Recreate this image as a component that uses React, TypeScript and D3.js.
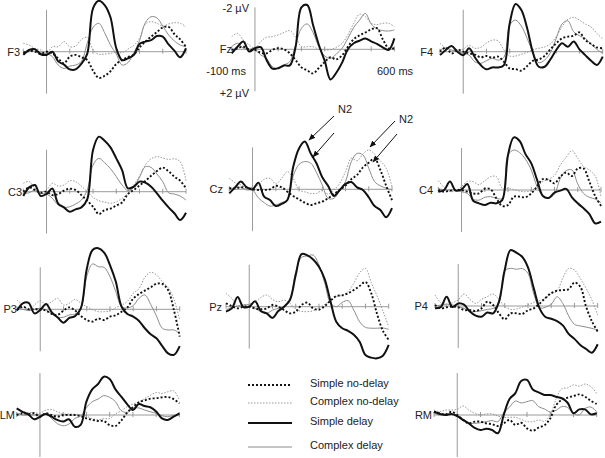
import * as d3 from 'd3';

// sample times in ms
const times = [-100, -75, -50, -25, 0, 25, 50, 75, 100, 125, 150, 175, 200, 225, 250, 275, 300, 325, 350, 375, 400, 425, 450, 475, 500, 525, 550, 575, 600];
const tickTimes = [-100, 100, 200, 300, 400, 500, 600];

// amplitudes in µV (negative plotted up)
// sn = simple no-delay, cn = complex no-delay, sd = simple delay, cd = complex delay
const F3 = {
  sn: [0.05, -0.05, 0, 0.1, 0, 0.08, 0.31, 0.54, 0.23, 0.15, 0.26, 0.39, 0.88, 1.22, 1.12, 0.91, 0.57, 0.39, 0.25, 0.14, -0.2, -0.47, -0.7, -0.91, -1.13, -1.16, -0.82, -0.57, -0.23],
  cn: [-0.39, -0.31, -0.15, -0.08, 0.08, -0.23, -0.23, -0.47, -0.23, -0.26, -0.57, -0.67, -0.08, 0.12, 0.11, 0.08, 0, 0.05, -0.12, -0.29, -0.62, -1.29, -1.4, -1.32, -1.19, -1.29, -1.35, -1.32, -1.16],
  sd: [0.15, -0.08, -0.12, 0.12, 0.15, 0, 0.45, 0.6, 0.82, 0.82, 0.56, 0.1, -2.02, -2.37, -2.17, -1.6, -0.16, 0.39, 0.31, 0.16, -0.36, -0.47, -0.54, -0.73, -0.7, -0.34, -0.05, 0.26, -0.16],
  cd: [0.08, 0, -0.08, 0.05, 0.08, 0.23, 0.62, 0.78, 0.67, 0.62, 0.45, -0.39, -1.13, -1.32, -0.88, -0.31, 0.11, 0.62, 0.51, 0.05, -0.51, -1.35, -1.63, -1.57, -1.19, -0.78, -0.5, -0.31, -0.23],
};
const Fz = {
  sn: [0.03, -0.05, -0.12, 0, 0.03, 0.16, 0.19, 0.03, -0.05, 0, 0.19, 0.5, 0.84, 0.98, 1.12, 0.87, 0.59, 0.37, 0.47, 0.28, -0.12, -0.47, -0.65, -0.78, -0.93, -0.98, -0.47, -0.05, -0.05],
  cn: [-0.59, -0.74, -0.43, -0.2, -0.05, -0.36, -0.56, -0.59, -0.67, -0.78, -0.87, -0.56, -0.12, -0.12, -0.12, 0, 0.03, 0.02, -0.09, -0.28, -0.67, -1.21, -1.63, -1.52, -1.21, -1.15, -1.21, -1.21, -1.05],
  sd: [0.19, -0.12, -0.36, 0.1, -0.05, -0.1, 0.5, 0.9, 0.88, 0.75, 0.75, -0.12, -1.95, -2.06, -1.13, -0.2, 0.53, 1.4, 1.09, 0.62, 0, -0.28, -0.4, -0.5, -0.37, -0.25, -0.09, 0.03, -0.51],
  cd: [-0.12, -0.28, -0.05, 0, 0.03, 0.26, 0.42, 0.81, 0.88, 0.73, 0.57, -0.2, -0.98, -1.18, -0.78, -0.12, 0.31, 0.42, 0.22, -0.05, -0.51, -1.02, -1.36, -1.67, -1.18, -0.95, -0.87, -0.85, -0.9],
};
const F4 = {
  sn: [0, -0.2, 0.08, -0.08, 0, 0.08, 0.14, 0.26, 0.2, 0.28, 0.23, 0.47, 0.78, 0.81, 0.88, 0.67, 0.42, 0.36, 0.2, -0.11, -0.39, -0.62, -0.7, -0.74, -0.9, -0.54, -0.36, -0.2, -0.16],
  cn: [-0.39, -0.16, -0.06, -0.1, -0.12, -0.3, -0.16, -0.2, -0.4, -0.54, -0.5, -0.08, 0.2, 0.2, 0.12, 0.03, -0.1, -0.16, -0.22, -0.36, -0.7, -1.16, -1.5, -1.6, -1.47, -1.29, -1.15, -0.85, -0.6],
  sd: [0.16, -0.08, -0.26, 0, 0.16, -0.16, 0.26, 0.62, 0.82, 0.73, 0.73, 0.62, -1.32, -2.22, -1.94, -1.09, 0.05, 0.7, 0.7, 0.36, -0.08, -0.39, -0.23, -0.47, -0.11, 0.16, 0.42, 0.62, 0.23],
  cd: [-0.08, -0.16, -0.08, 0, 0.08, 0.16, 0.47, 0.54, 0.42, 0.31, 0.39, 0.26, -1.24, -1.47, -1.19, -0.62, 0.05, 0.51, 0.39, 0.05, -0.62, -1.29, -1.44, -0.93, -0.74, -0.62, -0.36, -0.11, 0.08],
};
const C3 = {
  sn: [0, -0.2, -0.08, 0.05, 0, 0.16, 0.11, -0.05, -0.14, -0.08, 0.16, 0.42, 0.7, 1.04, 0.85, 0.79, 0.64, 0.5, 0.11, -0.08, -0.29, -0.5, -0.74, -0.96, -1.12, -0.95, -0.7, -0.51, -0.16],
  cn: [-0.39, -0.47, -0.16, 0, -0.08, -0.39, -0.26, -0.31, -0.51, -0.47, -0.26, 0, 0.26, 0.42, 0.48, 0.54, 0.47, 0.31, 0.08, -0.31, -0.73, -1.24, -1.53, -1.63, -1.57, -1.5, -1.53, -1.4, -0.51],
  sd: [0.2, -0.2, -0.31, 0.2, 0.1, -0.15, 0.55, 0.73, 0.93, 0.82, 0.73, 0.36, -1.94, -2.56, -2.37, -2.06, -1.55, -1.0, -0.16, -0.23, -0.47, -0.42, -0.23, 0.08, 0.42, 0.73, 1.0, 1.32, 0.98],
  cd: [0.08, 0.05, -0.08, 0.08, 0.11, 0.31, 0.62, 0.73, 0.7, 0.57, 0.39, -0.08, -1.24, -1.55, -1.35, -1.07, -0.7, -0.31, -0.05, -0.2, -0.67, -1.16, -1.13, -0.82, -0.47, 0.05, 0.11, 0.2, 0.39],
};
const Cz = {
  sn: [-0.05, -0.05, -0.09, -0.09, 0, 0.03, 0.03, 0, -0.16, -0.09, 0.11, 0.31, 0.47, 0.62, 0.73, 0.65, 0.57, 0.42, 0.22, 0.03, -0.17, -0.47, -0.67, -1.02, -1.24, -1.43, -0.9, -0.16, 0.5],
  cn: [-0.51, -0.31, -0.2, -0.09, -0.09, -0.2, -0.47, -0.51, -0.25, -0.51, -0.82, -0.51, 0.03, 0.12, 0.19, 0.19, 0.06, 0.22, 0.03, -0.28, -0.82, -1.44, -1.33, -1.64, -1.83, -1.64, -1.33, -0.98, -0.12],
  sd: [0.19, -0.09, -0.36, -0.09, 0, -0.31, 0.34, 0.5, 0.78, 0.68, 0.5, -1.05, -1.9, -2.22, -1.67, -1.21, -0.56, -0.16, 0.31, 0.03, -0.25, -0.34, -0.09, 0.03, 0.37, 0.78, 0.96, 1.3, 0.88],
  cd: [0.03, -0.09, -0.09, 0.03, 0.03, 0.4, 0.62, 0.78, 0.73, 0.62, 0.5, -0.62, -1.16, -1.29, -1.22, -0.78, -0.2, 0.42, 0.42, 0.06, -0.36, -1.29, -1.67, -1.6, -0.98, -0.36, -0.16, -0.05, 0.03],
};
const C4 = {
  sn: [0, 0.08, 0.03, 0, 0, 0.08, 0.16, 0.16, -0.06, -0.03, 0.39, 0.74, 0.7, 0.31, 0.31, 0.34, 0.16, -0.16, -0.51, -0.47, -0.31, -0.62, -0.81, -0.65, -1.0, -1.0, -0.39, 0.28, 0.74],
  cn: [-0.43, -0.12, 0.08, 0.03, -0.16, -0.4, -0.39, -0.25, -0.43, -0.62, -0.62, -0.08, -0.08, -0.02, 0.05, 0.08, 0.03, -0.16, -0.4, -0.5, -0.68, -1.16, -1.52, -1.83, -1.47, -1.09, -0.93, -0.65, 0.31],
  sd: [0.08, 0, -0.39, 0.03, -0.03, -0.28, 0.5, 0.62, 0.7, 0.59, 0.62, 0.47, -1.63, -2.45, -2.28, -1.67, -1.24, -0.47, 0.28, 0.37, 0.12, 0.03, -0.05, 0.34, 0.62, 0.85, 1.12, 1.55, 1.47],
  cd: [-0.08, 0, 0, 0, 0.08, 0.16, 0.43, 0.47, 0.34, 0.31, 0.39, 0.39, -1.63, -1.86, -1.74, -1.43, -0.93, -0.16, 0.28, 0.37, 0.19, -0.54, -0.9, -0.93, -0.28, 0.16, 0.34, 0.42, 0.59],
};
const P3 = {
  sn: [0.03, -0.12, 0, 0, 0, 0.06, 0.22, 0.26, 0.06, -0.09, 0.06, 0.31, 0.5, 0.57, 0.43, 0.5, 0.34, 0.28, 0.11, -0.09, -0.5, -0.71, -0.87, -1.02, -1.19, -1.18, -0.9, 0.03, 1.27],
  cn: [-0.43, -0.2, 0.03, -0.2, -0.4, -0.2, -0.36, -0.51, -0.2, -0.28, -0.46, -0.28, -0.12, 0.02, 0.11, 0.11, 0.08, -0.08, -0.19, -0.37, -0.74, -0.96, -1.49, -1.72, -1.6, -1.29, -1.01, -0.47, 0.5],
  sd: [0.06, -0.28, -0.3, 0.19, 0.03, -0.25, 0.15, 0.38, 0.62, 0.4, 0.32, -0.05, -1.86, -2.76, -2.84, -2.64, -2.06, -1.29, -0.12, 0.22, 0.34, 0.54, 0.88, 1.16, 1.35, 1.71, 2.05, 2.12, 1.71],
  cd: [-0.05, 0, 0.06, 0, -0.05, 0.03, 0.22, 0.37, 0.37, 0.26, 0.22, -0.05, -1.52, -2.11, -1.98, -1.95, -1.52, -0.82, -0.12, -0.06, -0.17, -0.51, -0.67, -0.23, 0.31, 0.88, 0.96, 0.96, 1.12],
};
const Pz = {
  sn: [-0.16, -0.03, 0.08, 0, 0, 0.08, 0.12, 0.08, -0.08, 0, 0.16, 0.31, 0.23, -0.08, -0.19, 0.08, 0.14, -0.03, -0.28, -0.5, -0.53, -0.62, -0.78, -0.96, -1.15, -0.62, 0.34, 1.12, 1.55],
  cn: [-0.62, -0.39, -0.03, -0.08, -0.12, -0.23, -0.43, -0.54, -0.34, -0.23, -0.31, -0.16, 0.12, 0.22, 0.23, 0.19, 0.05, -0.11, -0.28, -0.47, -0.53, -0.7, -1.09, -1.58, -1.78, -1.12, -0.5, 0.19, 0.93],
  sd: [0.23, 0.08, -0.45, 0.02, 0, -0.25, 0.2, 0.31, 0.52, 0.2, 0, -0.31, -1.47, -2.45, -2.39, -2.2, -1.86, -1.27, -0.23, 0.71, 1.0, 1.12, 1.3, 1.63, 2.25, 2.37, 2.4, 2.28, 1.78],
  cd: [0.16, 0.03, -0.03, -0.08, -0.08, 0.08, 0.23, 0.31, 0.16, 0.08, 0.03, -0.31, -1.63, -2.29, -2.36, -2.4, -1.94, -1.09, -0.16, 0, -0.2, -0.28, 0.16, 0.7, 0.96, 1.0, 1.0, 0.99, 1.05],
};
const P4 = {
  sn: [-0.05, 0.11, 0.06, 0.03, 0.06, 0.19, 0.19, 0.23, 0.11, -0.2, -0.05, 0.34, 0.62, 0.34, 0.34, 0.37, 0.2, 0.11, -0.11, -0.37, -0.6, -0.71, -0.74, -0.78, -1.09, -0.9, 0.03, 0.71, 1.19],
  cn: [-0.51, -0.15, -0.05, -0.15, -0.28, -0.56, -0.31, -0.12, -0.31, -0.43, -0.56, -0.31, 0.02, 0.16, 0.14, 0.06, -0.05, -0.16, -0.25, -0.36, -0.56, -0.71, -1.29, -1.75, -1.67, -1.29, -0.82, -0.28, 0.42],
  sd: [0.11, 0.05, -0.43, 0.05, -0.12, -0.06, 0.26, 0.45, 0.5, 0.3, 0.34, -0.2, -1.67, -2.6, -2.48, -2.29, -1.8, -0.82, 0.11, 0.51, 0.59, 0.7, 0.9, 1.3, 1.53, 1.81, 2.0, 2.17, 1.78],
  cd: [0.03, -0.05, -0.09, -0.05, 0.03, 0.11, 0.26, 0.26, 0.22, 0.16, 0.11, -0.12, -1.64, -1.75, -1.71, -1.74, -1.52, -0.56, 0.08, 0.06, -0.08, -0.43, -0.12, 0.46, 0.85, 0.93, 0.98, 1.04, 1.12],
};
const LM = {
  sn: [0, -0.08, -0.05, -0.08, 0.08, -0.08, 0, 0.08, 0, 0, 0, 0.05, 0.16, 0.22, 0.28, 0.28, 0.47, 0.51, 0.26, -0.11, -0.36, -0.59, -0.68, -0.76, -0.78, -0.82, -0.84, -0.74, -0.54],
  cn: [0.05, -0.15, -0.11, -0.11, -0.08, -0.23, -0.26, -0.15, -0.05, -0.05, -0.03, 0, 0.05, 0.17, 0.22, 0.17, 0.16, -0.05, -0.2, -0.39, -0.51, -0.6, -0.76, -0.91, -1.05, -1.0, -1.08, -1.13, -0.7],
  sd: [-0.31, -0.15, -0.03, 0.2, 0.08, -0.05, 0.08, 0.23, 0.3, 0.2, 0.55, 0.46, -0.62, -1.19, -1.44, -1.78, -1.67, -1.19, -0.85, -0.51, -0.23, -0.51, -0.42, -0.36, -0.16, 0.16, 0.23, 0.08, -0.08],
  cd: [-0.08, 0, 0, 0, 0, -0.05, 0.16, 0.4, 0.5, 0.42, 0.16, 0.05, -0.34, -0.62, -0.74, -0.9, -0.82, -0.62, -0.2, -0.12, -0.31, -0.33, -0.23, -0.15, -0.08, 0.03, 0.08, 0.02, 0],
};
const RM = {
  sn: [-0.15, -0.08, -0.03, -0.15, 0, 0.23, 0.39, 0.31, 0.31, 0.39, 0.43, 0.51, 0.39, 0.23, 0.46, 0.36, 0.62, 0.73, 0.59, 0.48, 0.16, -0.45, -0.71, -0.81, -0.88, -0.96, -0.85, -0.66, -0.51],
  cn: [-0.23, -0.15, -0.23, -0.23, -0.26, -0.42, -0.23, -0.08, 0, -0.05, -0.05, 0.05, 0.11, 0.11, 0.11, 0.2, 0.31, 0.31, 0.23, 0.29, 0, -0.73, -1.22, -1.26, -1.4, -1.34, -1.44, -1.32, -1.0],
  sd: [-0.15, -0.05, 0, -0.05, 0.05, 0.23, 0.39, 0.6, 0.7, 0.64, 0.7, 0.85, 0, -0.74, -1.02, -1.58, -1.63, -1.19, -1.05, -0.93, -0.93, -0.85, -0.78, -0.57, -0.08, -0.26, -0.26, -0.03, -0.08],
  cd: [-0.08, 0, -0.05, -0.03, 0, 0.2, 0.36, 0.39, 0.36, 0.31, 0.26, 0.31, -0.11, -0.37, -0.65, -0.56, -0.62, -0.67, -0.39, -0.28, -0.14, -0.22, -0.39, -0.35, -0.08, 0, -0.31, -0.37, -0.15],
};

const seriesKeys = ['sn', 'cn', 'sd', 'cd'];
const legendLabels = ['Simple no-delay', 'Complex no-delay', 'Simple delay', 'Complex delay'];

// panel placement: x0 = pixel of -100 ms, y0 = baseline, lx = right edge of electrode label
const panels = [
  { name: 'F3', data: F3, x0: 23.3, y0: 51.7, lx: 20 },
  { name: 'Fz', data: Fz, x0: 231.7, y0: 49.3, lx: 232 },
  { name: 'F4', data: F4, x0: 440, y0: 51.7, lx: 433 },
  { name: 'C3', data: C3, x0: 23.3, y0: 191.7, lx: 22 },
  { name: 'Cz', data: Cz, x0: 229.3, y0: 189.3, lx: 223 },
  { name: 'C4', data: C4, x0: 438.3, y0: 190, lx: 433 },
  { name: 'P3', data: P3, x0: 17, y0: 309.3, lx: 17 },
  { name: 'Pz', data: Pz, x0: 226, y0: 306.7, lx: 222 },
  { name: 'P4', data: P4, x0: 435, y0: 306, lx: 428 },
  { name: 'LM', data: LM, x0: 16.7, y0: 415, lx: 15 },
  { name: 'RM', data: RM, x0: 434, y0: 415, lx: 432 },
];

const styles: Record<string, { stroke: string; width: number; dash?: string }> = {
  cn: { stroke: '#8c8c8c', width: 0.9, dash: '1.5,1.5' },
  cd: { stroke: '#8c8c8c', width: 1 },
  sn: { stroke: '#111', width: 1.9, dash: '2,2' },
  sd: { stroke: '#111', width: 2 },
};
const drawOrder = ['cn', 'cd', 'sn', 'sd'];

const PANEL_W = 162.7;
const PX_PER_UV = 21.5;
const font = 'Liberation Sans, Arial, sans-serif';

function Panel({ p }: { p: typeof panels[number] }) {
  const x = d3.scaleLinear().domain([-100, 600]).range([p.x0, p.x0 + PANEL_W]);
  const y = d3.scaleLinear().domain([-2, 2]).range([p.y0 - 2 * PX_PER_UV, p.y0 + 2 * PX_PER_UV]);
  const line = d3
    .line<number>()
    .x((_, i) => x(times[i]))
    .y((v) => y(v))
    .curve(d3.curveCatmullRom.alpha(0.5));
  return (
    <g>
      <line x1={x(-100)} x2={x(600)} y1={y(0)} y2={y(0)} stroke="#9a9a9a" strokeWidth={1} />
      <line x1={x(0)} x2={x(0)} y1={y(-1.95)} y2={y(1.95)} stroke="#9a9a9a" strokeWidth={1} />
      {tickTimes.map((t) => (
        <line key={t} x1={x(t)} x2={x(t)} y1={y(0) - 3} y2={y(0) + 2} stroke="#9a9a9a" strokeWidth={1} />
      ))}
      {drawOrder.map((k) => {
        const s = styles[k];
        return (
          <path
            key={k}
            d={line((p.data as any)[k]) || ''}
            fill="none"
            stroke={s.stroke}
            strokeWidth={s.width}
            strokeDasharray={s.dash}
            strokeLinejoin="round"
          />
        );
      })}
      <text x={p.lx} y={p.y0} textAnchor="end" dominantBaseline="central" fontSize={11} fill="#222">
        {p.name}
      </text>
    </g>
  );
}

const legendY = [385, 403, 423, 447];
const arrows = [
  { x1: 334, y1: 116, x2: 309, y2: 140 },
  { x1: 334, y1: 133, x2: 313, y2: 157 },
  { x1: 395, y1: 121, x2: 370, y2: 147 },
  { x1: 397, y1: 134, x2: 373, y2: 162 },
];

export default function App() {
  return (
    <svg
      width={605}
      height={458}
      style={{ position: 'absolute', left: 0, top: 0, background: '#fff' }}
      fontFamily={font}
    >
      <defs>
        <marker id="ah" viewBox="0 0 10 10" refX="9" refY="5" markerWidth="7" markerHeight="7" orient="auto">
          <path d="M0,1 L10,5 L0,9 z" fill="#111" />
        </marker>
      </defs>
      <rect width={605} height={458} fill="#fff" />
      {panels.map((p) => (
        <Panel key={p.name} p={p} />
      ))}

      {/* scale labels on Fz */}
      <g fontSize={11} fill="#222">
        <text x={249} y={8} textAnchor="end" dominantBaseline="central">-2 µV</text>
        <text x={246} y={71} textAnchor="end" dominantBaseline="central">-100 ms</text>
        <text x={249} y={93} textAnchor="end" dominantBaseline="central">+2 µV</text>
        <text x={377} y={71} dominantBaseline="central">600 ms</text>
      </g>

      {/* N2 annotations */}
      {arrows.map((a, i) => (
        <line key={i} {...a} stroke="#111" strokeWidth={1} markerEnd="url(#ah)" />
      ))}
      <text x={338} y={109} fontSize={11} fill="#222" dominantBaseline="central">N2</text>
      <text x={399} y={119} fontSize={11} fill="#222" dominantBaseline="central">N2</text>

      {/* legend */}
      {seriesKeys.map((k, i) => {
        const s = styles[k];
        return (
          <g key={k}>
            <line x1={248} x2={292} y1={legendY[i]} y2={legendY[i]} stroke={s.stroke} strokeWidth={s.width} strokeDasharray={s.dash} />
            <text x={310} y={legendY[i] - 2} fontSize={11} fill="#222" dominantBaseline="central">
              {legendLabels[i]}
            </text>
          </g>
        );
      })}
    </svg>
  );
}
